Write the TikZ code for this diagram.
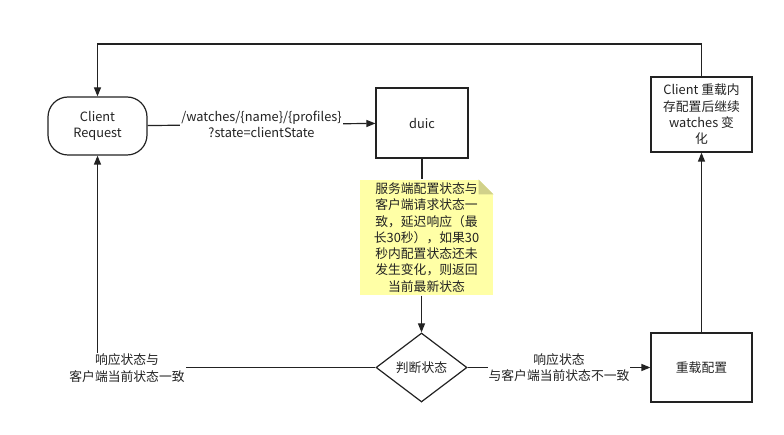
\documentclass[tikz,border=0pt]{standalone}
\usepackage{fontspec}
\setmainfont{Noto Sans CJK SC}
\usetikzlibrary{shapes.geometric,arrows.meta,calc,positioning}
\definecolor{notefill}{RGB}{255,255,166}
\definecolor{notefold}{RGB}{209,209,138}
\definecolor{linecol}{RGB}{34,34,34}

\begin{document}
\begin{tikzpicture}[x=1pt, y=-1pt,
    color=linecol, line width=1.2pt,
    font=\fontsize{12.8}{16.3}\selectfont,
    box/.style={draw, rectangle, align=center, inner sep=2pt},
    term/.style={box, rounded corners=20pt},
    decision/.style={draw, diamond, aspect=1.3, inner sep=0pt,
      minimum width=91, minimum height=69},
    memo/.style={fill=notefill, align=center, inner sep=0pt,
      minimum width=133, minimum height=115, text width=131},
    lbl/.style={fill=white, align=center, inner sep=1pt},
    arr/.style={-{Triangle[length=9pt,width=7pt]}}]
  \useasboundingbox (0,0) rectangle (784,435);

  % blocks
  \node[term, minimum width=99, minimum height=58] (client) at (97.5,126) {Client\\Request};
  \node[box, minimum width=92, minimum height=70] (duic) at (422,123) {duic};
  \node[memo] (note) at (426.5,237.5)
    {服务端配置状态与\\客户端请求状态一\\致，延迟响应（最\\长30秒），如果30\\秒内配置状态还未\\发生变化，则返回\\当前最新状态};
  \fill[white] ($(note.north east)+(-15,0)$) -- (note.north east) -- ($(note.north east)+(0,15)$) -- cycle;
  \fill[notefold] ($(note.north east)+(-15,0)$) -- ($(note.north east)+(-15,15)$) -- ($(note.north east)+(0,15)$) -- cycle;
  \node[decision] (judge) at (421.5,367.5) {判断状态};
  \node[box, minimum width=101, minimum height=69] (reload) at (701.5,367.5) {重载配置};
  \node[box, minimum width=101, minimum height=75] (notify) at (701.5,114.5)
    {Client 重载内\\存配置后继续\\watches 变\\化};
  \coordinate (loop) at (400,44);

  % connectors
  \draw[arr] (client) -- (duic)
    node[lbl, midway] (req) {/watches/\{name\}/\{profiles\}\\?state=clientState};
  \draw (duic.south) -- (duic.south |- note.north);
  \draw[arr] (judge.north |- note.south) -- (judge.north);
  \draw[arr] (judge) -- (reload)
    node[lbl, midway] (diff) {响应状态\\与客户端当前状态不一致};
  \draw[arr] (judge.west) -| (client.south);
  \node[lbl] (same) at (127,368) {响应状态与\\客户端当前状态一致};
  \draw[arr] (reload) -- (notify);
  \draw[arr] (notify.north) |- (loop) -| (client.north);
\end{tikzpicture}
\end{document}
